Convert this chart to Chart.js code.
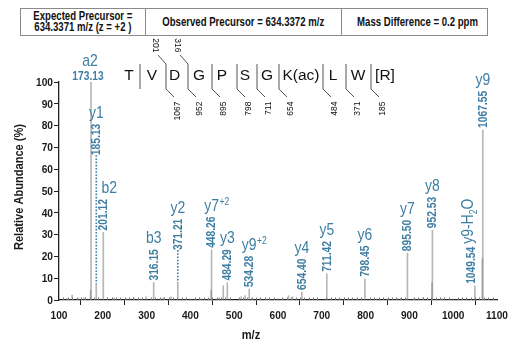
<!DOCTYPE html>
<html><head><meta charset="utf-8">
<script src="https://cdn.jsdelivr.net/npm/chart.js@4.4.1/dist/chart.umd.min.js"></script>
<style>
html,body{margin:0;padding:0;background:#fff;}
#wrap{position:relative;width:520px;height:350px;overflow:hidden;}
#c{position:absolute;left:0;top:0;}
#hdr{position:absolute;left:20px;top:8px;width:468px;height:28px;border:1px solid #8a8a8a;display:flex;box-sizing:border-box;
 font-family:'Liberation Sans',Arial,sans-serif;font-weight:bold;font-size:12px;color:#111;background:#fff;}
.cell{display:flex;align-items:center;justify-content:center;text-align:center;border-right:1px solid #8a8a8a;box-sizing:border-box;overflow:visible;}
.cell span{display:inline-block;white-space:nowrap;transform:scaleX(0.8);line-height:11px;}
</style></head>
<body><div id="wrap">
<canvas id="c" width="520" height="350"></canvas>
<div id="hdr"><div class="cell" style="width:128px"><span id="h0"></span></div><div class="cell" style="width:196px"><span id="h1"></span></div><div class="cell" style="flex:1;border-right:none"><span id="h2"></span></div></div>
</div>
<script>
// ---------- DATA ----------
const headerTexts = ['Expected Precursor =\n634.3371 m/z (z = +2 )', 'Observed Precursor = 634.3372 m/z', 'Mass Difference = 0.2 ppm'];
// labelled fragment ions
const ionNames  = ['a2','y1','b2','b3','y2','y7','y3','y9','y4','y5','y6','y7','y8','y9-H2O','y9'];
const ionCharge = ['','','','','','+2','','+2','','','','','','',''];
const ionMz     = [173.13,185.13,201.12,316.15,371.21,448.26,484.29,534.28,654.40,711.42,798.45,895.50,952.53,1049.54,1067.55];
const ionAbund  = [100,7.5,31,8,8,23,8,5,3.7,12,9.7,21.5,32,6.5,78];
const ionLabelAt= [100,65.5,31,8,22,23,8,5,3.7,12,9.7,21.5,32,6.5,78];
// unlabelled peaks
const otherMz    = [118,130,145,157,172.1,226,240,255,271,287,299,338,356,400,412,425,447.3,466,475,516,525,540,560,575,600,610,624,633,680,740,760,780,825,850,873,880,910,931,951.5,975,1000,1020,1066.5];
const otherAbund = [0.6,2.3,0.6,1,4.5,1,0.5,0.5,1,0.5,1.5,1,1.5,0.5,0.5,0.5,4.5,1,6.5,1.5,2,0.6,0.5,0.5,0.6,0.5,2,1.5,0.5,0.6,0.5,0.5,0.5,0.5,0.8,0.8,0.5,1,8,0.5,0.5,0.6,19];
// peptide sequence and fragment numbers at each residue boundary
const residues = ['T','V','D','G','P','S','G','K(ac)','L','W','[R]'];
const bFrag = [null,201,316,null,null,null,null,null,null,null];
const yFrag = [null,1067,952,895,798,711,654,484,371,185];
// axis ticks
const xTicks = [100,200,300,400,500,600,700,800,900,1000,1100];
const yTicks = [0,10,20,30,40,50,60,70,80,90,100];

// ---------- STYLE ----------
const SANS = "'Liberation Sans',Arial,sans-serif";
const BLUE = '#3e7ea3';
const SX = 0.82; // horizontal condensing (narrow face)

headerTexts.forEach((t,i)=>{ document.getElementById('h'+i).innerHTML = t.replace('\n','<br>'); });

const peaks = ionMz.map((m,i)=>({x:m,y:ionAbund[i]})).concat(otherMz.map((m,i)=>({x:m,y:otherAbund[i]})));

// draw condensed text; rot = rotation angle
function nText(ctx, text, x, y, font, align, baseline, rot, sx) {
  sx = sx || SX;
  ctx.save(); ctx.translate(x, y); if (rot) ctx.rotate(rot); ctx.scale(sx, 1);
  ctx.font = font; ctx.textAlign = align || 'left'; ctx.textBaseline = baseline || 'alphabetic';
  ctx.fillText(text, 0, 0); ctx.restore();
}
function nWidth(ctx, text, font, sx) { ctx.save(); ctx.font = font; const w = ctx.measureText(text).width * (sx || SX); ctx.restore(); return w; }

const annot = {
  id:'annot',
  afterDatasetsDraw(chart){
    const ctx = chart.ctx, xs = chart.scales.x, ys = chart.scales.y;
    ctx.save();
    // minor ticks on x axis
    ctx.strokeStyle = '#777'; ctx.lineWidth = 1;
    for (let v = xTicks[0]; v <= xTicks[xTicks.length-1]; v += 10) {
      if (v % 100 === 0) continue;
      const px = Math.round(xs.getPixelForValue(v)) + 0.5;
      ctx.beginPath(); ctx.moveTo(px, ys.bottom); ctx.lineTo(px, ys.bottom - 2.5); ctx.stroke();
    }
    // tick labels
    ctx.fillStyle = '#1a1a1a';
    const TF = 'bold 11.8px ' + SANS;
    xTicks.forEach(v => nText(ctx, String(v), xs.getPixelForValue(v), ys.bottom + 19, TF, 'center', 'alphabetic', 0, 0.86));
    yTicks.forEach(v => nText(ctx, String(v), xs.left - 6, ys.getPixelForValue(v) + 0.5, TF, 'right', 'middle', 0, 0.86));
    // ion labels
    ctx.fillStyle = BLUE; ctx.strokeStyle = BLUE;
    const MF = 'bold 12.5px ' + SANS, NF = '17px ' + SANS, SF = '10.5px ' + SANS;
    ionMz.forEach((m,i)=>{
      const px = xs.getPixelForValue(m);
      const peakTop = ys.getPixelForValue(ionAbund[i]);
      const base = ys.getPixelForValue(ionLabelAt[i]);
      const txt = m.toFixed(2);
      const name = ionNames[i];
      if (name === 'a2') {
        nText(ctx, txt, px - 3, base - 2, MF, 'center');
        nText(ctx, name, px - 1, base - 16, NF, 'center');
        return;
      }
      if (ionLabelAt[i] > ionAbund[i]) {
        ctx.save(); ctx.lineWidth = 1.6; ctx.setLineDash([1.6,1.6]);
        ctx.beginPath(); ctx.moveTo(px, base - 2); ctx.lineTo(px, peakTop); ctx.stroke();
        ctx.restore();
      }
      const L = nWidth(ctx, txt, MF);
      const mdx = name === 'y9-H2O' ? -3 : 0.5;
      nText(ctx, txt, px + mdx, base - 2, MF, 'left', 'middle', -Math.PI/2);
      const textTop = base - 2 - L;
      if (name === 'y9-H2O') {
        const x0 = px - 1.5, y0 = textTop - 3;
        const a = 'y9-H', w1 = nWidth(ctx, a, NF), w2 = nWidth(ctx, '2', SF);
        nText(ctx, a, x0, y0, NF, 'left', 'alphabetic', -Math.PI/2);
        nText(ctx, '2', x0 + 4, y0 - w1, SF, 'left', 'alphabetic', -Math.PI/2);
        nText(ctx, 'O', x0, y0 - w1 - w2, NF, 'left', 'alphabetic', -Math.PI/2);
        return;
      }
      const dx = name === 'b2' ? 6 : 0;
      const nw = nWidth(ctx, name, NF);
      const nx = px + dx - nw/2, ny = textTop - 6;
      nText(ctx, name, nx, ny, NF, 'left');
      if (ionCharge[i]) nText(ctx, ionCharge[i], nx + nw + 0.5, ny - 6, SF, 'left');
    });
    ctx.restore();
  },
  afterDraw(chart){
    const ctx = chart.ctx;
    ctx.save();
    // axis titles
    ctx.fillStyle = '#1a1a1a';
    nText(ctx, 'm/z', 251, 335, 'bold 13.5px ' + SANS, 'center', 'middle');
    nText(ctx, 'Relative Abundance (%)', 19, 187, 'bold 13.5px ' + SANS, 'center', 'middle', -Math.PI/2);
    // peptide sequence
    const resX = [129,152,174.5,199,222,245,267,301,333,358,385];
    const gapX = [140,166,188,212,237,257,279,323,346,371];
    ctx.fillStyle = '#111'; ctx.font = '15.5px ' + SANS; ctx.textAlign = 'center'; ctx.textBaseline = 'alphabetic';
    residues.forEach((r,i)=> ctx.fillText(r, resX[i], 79.5));
    ctx.strokeStyle = '#555'; ctx.lineWidth = 1;
    gapX.forEach((g,i)=>{
      ctx.beginPath(); ctx.moveTo(g, 64); ctx.lineTo(g, 89); ctx.stroke();
      if (bFrag[i] != null) {
        ctx.beginPath(); ctx.moveTo(g, 64); ctx.lineTo(g - 8, 55); ctx.stroke();
        ctx.save(); ctx.translate(g - 10.5, 52.5); ctx.rotate(Math.PI/2);
        ctx.font = '8.5px ' + SANS; ctx.textAlign = 'right'; ctx.textBaseline = 'middle';
        ctx.fillText(String(bFrag[i]), 0, 0); ctx.restore();
      }
      if (yFrag[i] != null) {
        ctx.beginPath(); ctx.moveTo(g, 89); ctx.lineTo(g + 8, 97); ctx.stroke();
        ctx.save(); ctx.translate(g + 11.5, 101.5); ctx.rotate(-Math.PI/2);
        ctx.font = '8.5px ' + SANS; ctx.textAlign = 'right'; ctx.textBaseline = 'middle';
        ctx.fillText(String(yFrag[i]), 0, 0); ctx.restore();
      }
    });
    ctx.restore();
  }
};

new Chart(document.getElementById('c'), {
  type: 'bar',
  data: { datasets: [{ data: peaks, backgroundColor: 'rgba(135,135,135,0.6)', barThickness: 1, categoryPercentage: 1, barPercentage: 1 }] },
  options: {
    responsive: false, animation: false, events: [],
    layout: { padding: { top: 82, right: 23, left: 0, bottom: 0 } },
    plugins: { legend: { display: false }, tooltip: { enabled: false } },
    scales: {
      x: { type: 'linear', min: xTicks[0], max: xTicks[xTicks.length-1], offset: false,
           afterBuildTicks: s => { s.ticks = xTicks.map(v => ({ value: v })); },
           ticks: { display: false },
           grid: { drawOnChartArea: false, drawTicks: true, tickLength: 5, color: '#222', lineWidth: 1 },
           border: { color: '#222', width: 1.3 },
           afterFit: s => { s.height = 50; } },
      y: { min: yTicks[0], max: yTicks[yTicks.length-1],
           afterBuildTicks: s => { s.ticks = yTicks.map(v => ({ value: v })); },
           ticks: { display: false },
           grid: { drawOnChartArea: false, drawTicks: true, tickLength: 5, color: '#222', lineWidth: 1 },
           border: { color: '#222', width: 1.3 },
           afterFit: s => { s.height; s.width = 59; } }
    }
  },
  plugins: [annot]
});
</script>
</body></html>
